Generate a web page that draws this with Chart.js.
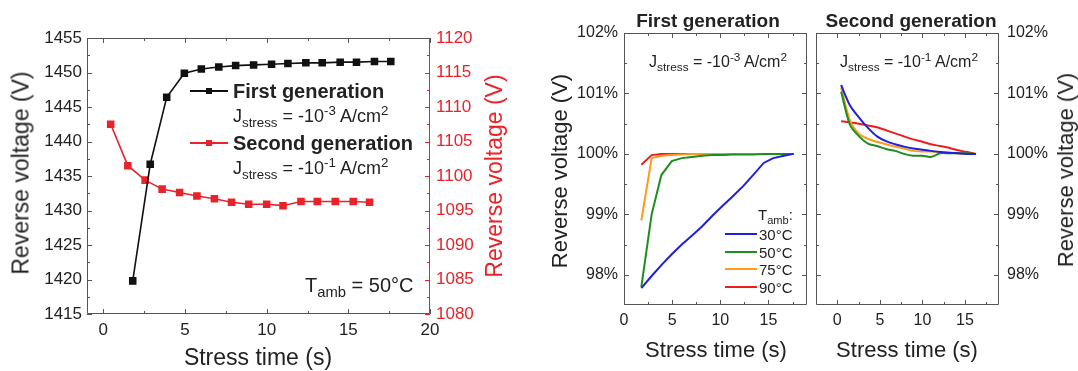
<!DOCTYPE html>
<html>
<head>
<meta charset="utf-8">
<script src="https://cdn.jsdelivr.net/npm/chart.js@4.4.3/dist/chart.umd.min.js"></script>
<style>
  body { margin: 0; background: #fff; }
  #wrap { position: relative; width: 1078px; height: 371px; overflow: hidden;
          font-family: 'Liberation Sans', Arial, sans-serif; color: #222; }
  canvas { position: absolute; top: 0; }
  .t { position: absolute; white-space: nowrap; line-height: 1; }
  .c { transform: translate(-50%, -50%); }
  .v { transform: translate(-50%, -50%) rotate(-90deg); }
  .l { transform: translateY(-50%); }
  .b { font-weight: bold; }
  sub, sup { font-size: 74%; line-height: 0; }
  .sw { position: absolute; height: 2px; }
  .mk { position: absolute; width: 6px; height: 6px; top: -2px; }
</style>
</head>
<body>
<div id="wrap">
  <canvas id="left" width="540" height="371" style="left:0"></canvas>
  <canvas id="gen1" width="280" height="371" style="left:530px"></canvas>
  <canvas id="gen2" width="268" height="371" style="left:810px"></canvas>

  <!-- left panel texts -->
  <div class="t v" style="left:21px;top:173px;font-size:23px">Reverse voltage (V)</div>
  <div class="t v" style="left:494px;top:176px;font-size:23px;color:#e8232a">Reverse voltage (V)</div>
  <div class="t c" style="left:258px;top:357px;font-size:23px">Stress time (s)</div>

  <div class="sw" style="left:190px;top:90px;width:38px;background:#111"><div class="mk" style="left:16px;background:#111"></div></div>
  <div class="t l b" style="left:233px;top:91px;font-size:20px">First generation</div>
  <div class="t l" style="left:233px;top:116px;font-size:18px">J<sub>stress</sub> = -10<sup>-3</sup> A/cm<sup>2</sup></div>
  <div class="sw" style="left:190px;top:142px;width:38px;background:#e8232a"><div class="mk" style="left:16px;background:#e8232a"></div></div>
  <div class="t l b" style="left:233px;top:143px;font-size:20px">Second generation</div>
  <div class="t l" style="left:233px;top:168px;font-size:18px">J<sub>stress</sub> = -10<sup>-1</sup> A/cm<sup>2</sup></div>
  <div class="t l" style="left:305px;top:285px;font-size:20px">T<sub>amb</sub> = 50°C</div>

  <!-- right panels texts -->
  <div class="t c b" style="left:708px;top:20px;font-size:19px">First generation</div>
  <div class="t c b" style="left:911px;top:20px;font-size:19px">Second generation</div>
  <div class="t l" style="left:649px;top:62px;font-size:16px">J<sub>stress</sub> = -10<sup>-3</sup> A/cm<sup>2</sup></div>
  <div class="t l" style="left:840px;top:62px;font-size:16px">J<sub>stress</sub> = -10<sup>-1</sup> A/cm<sup>2</sup></div>
  <div class="t v" style="left:560px;top:171px;font-size:22px">Reverse voltage (V)</div>
  <div class="t v" style="left:1066px;top:170px;font-size:22px">Reverse voltage (V)</div>
  <div class="t c" style="left:716px;top:350px;font-size:22px">Stress time (s)</div>
  <div class="t c" style="left:907px;top:350px;font-size:22px">Stress time (s)</div>

  <div class="t l" style="left:758px;top:214px;font-size:15px">T<sub>amb</sub>:</div>
  <div class="sw" style="left:725px;top:233px;width:32px;background:#1f1fdd"></div>
  <div class="t l" style="left:759px;top:234px;font-size:15px">30°C</div>
  <div class="sw" style="left:725px;top:251px;width:32px;background:#1e8c1e"></div>
  <div class="t l" style="left:759px;top:252px;font-size:15px">50°C</div>
  <div class="sw" style="left:725px;top:268px;width:32px;background:#ff9a1a"></div>
  <div class="t l" style="left:759px;top:269px;font-size:15px">75°C</div>
  <div class="sw" style="left:725px;top:286px;width:32px;background:#ee1d1d"></div>
  <div class="t l" style="left:759px;top:287px;font-size:15px">90°C</div>
</div>

<script>
const genTime1 = [1.8, 2.87, 3.88, 4.96, 6.0, 7.07, 8.1, 9.2, 10.3, 11.3, 12.4, 13.4, 14.5, 15.5, 16.6, 17.6];
const firstGenV = [1419.8, 1436.7, 1446.4, 1449.9, 1450.5, 1450.8, 1451.0, 1451.1, 1451.2, 1451.3, 1451.4, 1451.4, 1451.5, 1451.5, 1451.6, 1451.6];
const genTime2 = [0.45, 1.5, 2.56, 3.6, 4.67, 5.73, 6.8, 7.85, 8.9, 10.0, 11.0, 12.1, 13.1, 14.2, 15.3, 16.3];
const secondGenV = [1107.5, 1101.5, 1099.4, 1098.1, 1097.6, 1097.1, 1096.7, 1096.2, 1095.9, 1095.9, 1095.7, 1096.3, 1096.3, 1096.3, 1096.3, 1096.2];

// normalized curves (%), first generation
const gen1_30 = [97.78, 97.98, 98.16, 98.34, 98.5, 98.65, 98.8, 98.98, 99.15, 99.3, 99.47, 99.65, 99.85, 99.93, 99.97, 100];
const gen1_50 = [97.8, 99.0, 99.65, 99.88, 99.93, 99.95, 99.97, 99.98, 99.98, 99.99, 99.99, 99.99, 100, 100, 100, 100];
const gen1_75 = [98.9, 99.93, 99.97, 99.98, 99.99, 100, 100, 100, 100, 100, 100, 100, 100, 100, 100, 100];
const gen1_90 = [99.82, 99.98, 100, 100, 100, 100, 100, 100, 100, 100, 100, 100, 100, 100, 100, 100];

// normalized curves (%), second generation
const gen2_30 = [101.14, 100.8, 100.6, 100.43, 100.29, 100.21, 100.16, 100.12, 100.09, 100.07, 100.05, 100.03, 100.02, 100.01, 100.0, 100];
const gen2_50 = [101.03, 100.48, 100.29, 100.17, 100.13, 100.08, 100.05, 100.0, 99.97, 99.97, 99.95, 100.01, 100.01, 100.01, 100.01, 100];
const gen2_75 = [101.1, 100.55, 100.33, 100.25, 100.2, 100.16, 100.12, 100.09, 100.05, 100.04, 100.04, 100.03, 100.02, 100.01, 100.0, 100];
const gen2_90 = [100.54, 100.52, 100.5, 100.47, 100.44, 100.39, 100.34, 100.29, 100.24, 100.2, 100.16, 100.13, 100.1, 100.06, 100.03, 100];

// tick positions
const leftXTicks = [0, 5, 10, 15, 20];
const leftXMinor = [2.5, 7.5, 12.5, 17.5];
const leftYTicks = [1415, 1420, 1425, 1430, 1435, 1440, 1445, 1450, 1455];
const leftYMinor = [1417.5, 1422.5, 1427.5, 1432.5, 1437.5, 1442.5, 1447.5, 1452.5];
const rightYTicks = [1080, 1085, 1090, 1095, 1100, 1105, 1110, 1115, 1120];
const rightYMinor = [1082.5, 1087.5, 1092.5, 1097.5, 1102.5, 1107.5, 1112.5, 1117.5];
const panelXTicks = [0, 5, 10, 15];
const panelXMinor = [2.5, 7.5, 12.5, 17.5];
const pctTicks = [98, 99, 100, 101, 102];
const pctMinor = [98.5, 99.5, 100.5, 101.5];

const RED = '#e8232a', DARK = '#222', FRAME = '#555';
const C30 = '#1f1fdd', C50 = '#1e8c1e', C75 = '#ff9a1a', C90 = '#ee1d1d';

Chart.defaults.font.family = "'Liberation Sans', Arial, sans-serif";
Chart.defaults.color = DARK;

const pts = (xs, ys) => xs.map((x, i) => ({ x, y: ys[i] }));
const setTicks = arr => s => { s.ticks = arr.map(v => ({ value: v })); };

// box + inward ticks, Origin style
const framePlugin = {
  id: 'frame',
  afterDatasetsDraw(chart, args, opts) {
    const { ctx, chartArea: a } = chart;
    ctx.save();
    ctx.lineWidth = 1;
    const seg = (x1, y1, x2, y2, col) => {
      ctx.strokeStyle = col;
      ctx.beginPath(); ctx.moveTo(x1, y1); ctx.lineTo(x2, y2); ctx.stroke();
    };
    for (const ax of opts.axes) {
      const sc = chart.scales[ax.id];
      for (const [vals, len] of [[ax.major, 5], [ax.minor, 3]]) {
        for (const v of vals) {
          const p = Math.round(sc.getPixelForValue(v)) + 0.5;
          for (const side of ax.sides) {
            if (side === 'bottom') seg(p, a.bottom, p, a.bottom - len, ax.color);
            if (side === 'top') seg(p, a.top, p, a.top + len, ax.color);
            if (side === 'left') seg(a.left, p, a.left + len, p, ax.color);
            if (side === 'right') seg(a.right, p, a.right - len, p, ax.color);
          }
        }
      }
    }
    const L = Math.round(a.left) + 0.5, R = Math.round(a.right) - 0.5;
    const T = Math.round(a.top) + 0.5, B = Math.round(a.bottom) - 0.5;
    seg(L, T, R, T, opts.sides.top);
    seg(L, B, R, B, opts.sides.bottom);
    seg(L, T, L, B, opts.sides.left);
    seg(R, T, R, B, opts.sides.right);
    ctx.restore();
  }
};

function xScale(min, max, ticks, height, size, pad) {
  return {
    type: 'linear', min, max,
    afterBuildTicks: setTicks(ticks),
    ticks: { font: { size }, padding: pad, color: DARK, maxRotation: 0 },
    grid: { display: false, drawTicks: false },
    border: { display: false },
    afterFit: s => { s.height = height; }
  };
}
function yScale(min, max, ticks, width, size, pad, position, color, fmt) {
  return {
    type: 'linear', min, max, position,
    afterBuildTicks: setTicks(ticks),
    ticks: { font: { size }, padding: pad, color, callback: fmt },
    grid: { display: false, drawTicks: false },
    border: { display: false },
    afterFit: s => { s.width = width; }
  };
}
const baseOpts = {
  responsive: false, animation: false, events: [],
  plugins: { legend: { display: false }, tooltip: { enabled: false } }
};

// left panel: absolute voltages, twin axes
new Chart(document.getElementById('left'), {
  type: 'line',
  data: {
    datasets: [
      { data: pts(genTime1, firstGenV), yAxisID: 'y', borderColor: '#111', backgroundColor: '#111',
        borderWidth: 1.6, pointStyle: 'rect', pointRadius: 4.2, tension: 0 },
      { data: pts(genTime2, secondGenV), yAxisID: 'y2', borderColor: RED, backgroundColor: RED,
        borderWidth: 1.6, pointStyle: 'rect', pointRadius: 4.2, tension: 0 }
    ]
  },
  options: {
    ...baseOpts,
    layout: { padding: { top: 38, left: 0, right: 0, bottom: 0 } },
    scales: {
      x: xScale(-1, 20, leftXTicks, 57, 17, 6),
      y: yScale(1415, 1455, leftYTicks, 87, 17, 5, 'left', DARK, v => v),
      y2: yScale(1080, 1120, rightYTicks, 110, 17, 6, 'right', RED, v => v)
    },
    plugins: {
      ...baseOpts.plugins,
      frame: {
        sides: { top: FRAME, bottom: FRAME, left: FRAME, right: RED },
        axes: [
          { id: 'x', major: leftXTicks, minor: leftXMinor, sides: ['bottom', 'top'], color: FRAME },
          { id: 'y', major: leftYTicks, minor: leftYMinor, sides: ['left'], color: FRAME },
          { id: 'y2', major: rightYTicks, minor: rightYMinor, sides: ['right'], color: RED }
        ]
      }
    }
  },
  plugins: [framePlugin]
});

function tempSets(xs, a, b, c, d, tension) {
  return [[a, C30], [b, C50], [c, C75], [d, C90]].map(([ys, col]) => ({
    data: pts(xs, ys), borderColor: col, borderWidth: 2, pointRadius: 0, tension
  }));
}
function panel(id, xs, series, xMin, pos, pad, yWidth, tension) {
  return new Chart(document.getElementById(id), {
    type: 'line',
    data: { datasets: tempSets(xs, ...series, tension) },
    options: {
      ...baseOpts,
      layout: { padding: pad },
      scales: {
        x: xScale(xMin, 19, panelXTicks, 66, 16, 6),
        y: yScale(97.5, 102, pctTicks, yWidth, 16, pos === 'left' ? 6 : 8, pos, DARK, v => v + '%')
      },
      plugins: {
        ...baseOpts.plugins,
        frame: {
          sides: { top: FRAME, bottom: FRAME, left: FRAME, right: FRAME },
          axes: [
            { id: 'x', major: panelXTicks, minor: panelXMinor, sides: ['bottom', 'top'], color: FRAME },
            { id: 'y', major: pctTicks, minor: pctMinor, sides: ['left', 'right'], color: FRAME }
          ]
        }
      }
    },
    plugins: [framePlugin]
  });
}

panel('gen1', genTime1, [gen1_30, gen1_50, gen1_75, gen1_90], 0, 'left',
      { top: 33, left: 0, right: 3, bottom: 0 }, 94, 0);
panel('gen2', genTime2, [gen2_30, gen2_50, gen2_75, gen2_90], -2.5, 'right',
      { top: 33, left: 6, right: 0, bottom: 0 }, 79, 0.3);
</script>
</body>
</html>
